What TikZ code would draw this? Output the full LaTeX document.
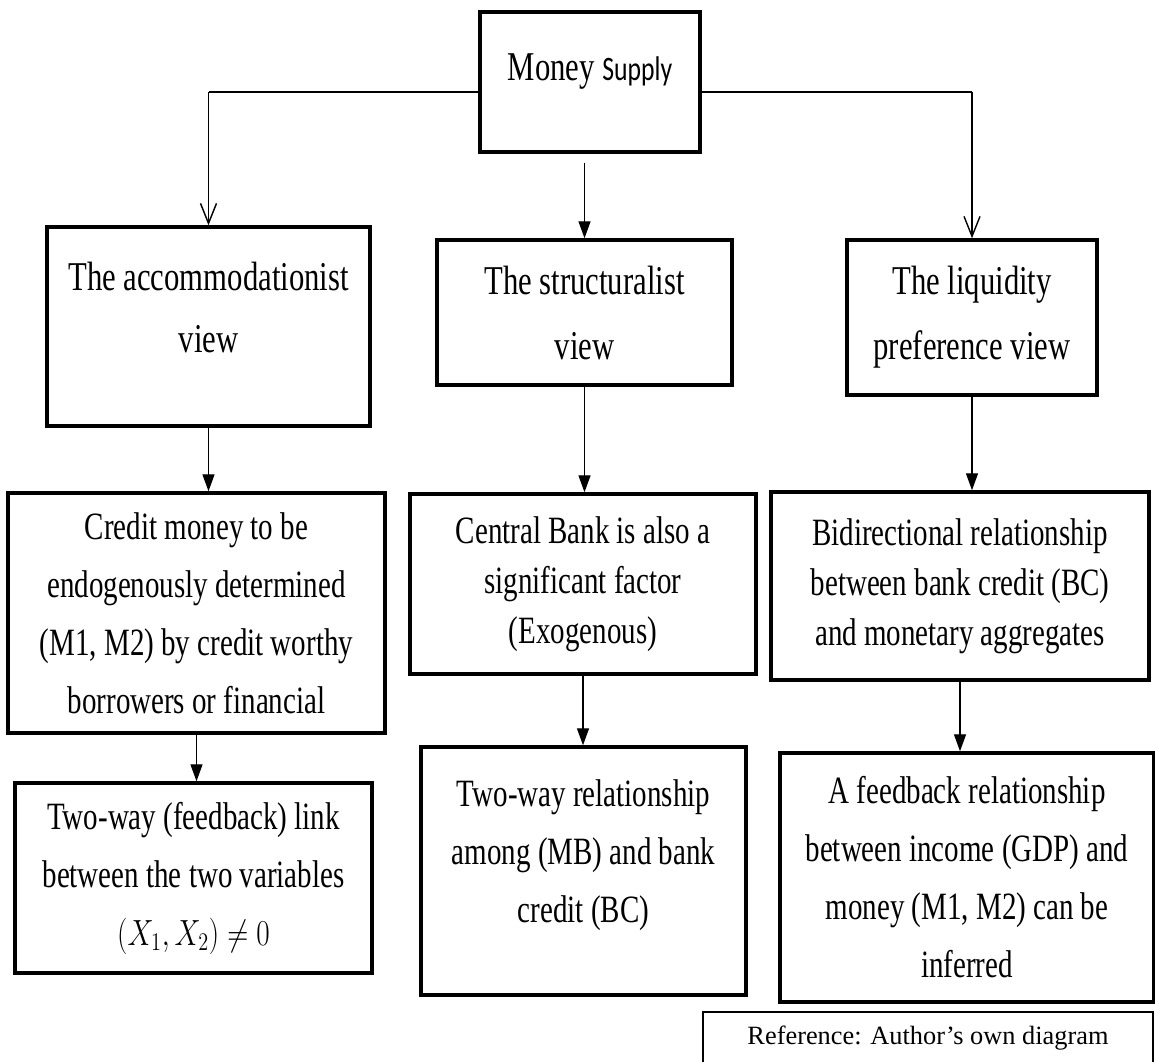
\documentclass[tikz,border=0pt]{standalone}
\usepackage{fontspec}
\usepackage{graphicx}
\usetikzlibrary{arrows.meta,positioning}
\setmainfont[FakeStretch=0.75]{Liberation Serif}
\newfontfamily\supplyfont[FakeStretch=0.75]{Carlito}
\newfontfamily\notefont{Liberation Serif}
\newcommand{\headsize}{\fontsize{23.3}{35}\selectfont}
\newcommand{\bodysize}{\fontsize{22}{33}\selectfont}
\newcommand{\bodytight}{\fontsize{22}{28.5}\selectfont}

\begin{document}
\begin{tikzpicture}[x=0.02cm,y=-0.02cm,
  box/.style={draw,line width=2pt,align=center,inner sep=0pt},
  link/.style={line width=0.8pt},
  vee/.style={link,-{Straight Barb[length=0.4cm,width=0.32cm]}},
  tri/.style={link,-{Triangle[length=0.34cm,width=0.24cm]}}]
  \useasboundingbox (0,0) rectangle (1155,1061);
  % root
  \node[box,minimum width=4.4cm,minimum height=2.8cm,text depth=17pt,font=\headsize]
       (ms) at (590,82) {Money {\supplyfont\fontsize{19.5}{35}\selectfont Supply}};
  % the three views
  \node[box,minimum width=6.46cm,minimum height=3.98cm,text depth=22pt,font=\headsize]
       (acc) at (208.5,326.5) {The accommodationist\\view};
  \node[box,minimum width=5.9cm,minimum height=2.9cm,font=\fontsize{23.3}{37}\selectfont]
       (str) at (584.5,312.5) {The structuralist\\view};
  \node[box,minimum width=5.0cm,minimum height=3.1cm,font=\fontsize{23.3}{37}\selectfont]
       (liq) at (972,317.5) {The liquidity\\preference view};
  % second row
  \node[box,minimum width=7.54cm,minimum height=4.8cm,font=\bodysize]
       (accA) at (196.5,613) {Credit money to be\\endogenously determined\\(M1, M2) by credit worthy\\borrowers or financial};
  \node[box,minimum width=6.92cm,minimum height=3.6cm,font=\bodytight]
       (strA) at (583,584) {Central Bank is also a\\significant factor\\(Exogenous)};
  \node[box,minimum width=7.56cm,minimum height=3.76cm,font=\bodytight]
       (liqA) at (960,586) {Bidirectional relationship\\between bank credit (BC)\\and monetary aggregates};
  % third row
  \node[box,minimum width=7.14cm,minimum height=3.8cm,font=\bodysize]
       (accB) at (193.5,878) {Two-way (feedback) link\\between the two variables\\\scalebox{0.8}[1]{$(X_1,X_2)\neq 0$}};
  \node[box,minimum width=6.5cm,minimum height=4.96cm,text depth=23pt,font=\bodysize]
       (strB) at (583.5,871) {Two-way relationship\\among (MB) and bank\\credit (BC)};
  \node[box,minimum width=7.48cm,minimum height=4.98cm,font=\bodysize]
       (liqB) at (967,877.5) {A feedback relationship\\between income (GDP) and\\money (M1, M2) can be\\inferred};
  % source note
  \node[draw,line width=1.2pt,minimum width=9.0cm,minimum height=1.04cm,inner sep=0pt,
        font=\notefont\fontsize{15}{18}\selectfont] (ref) at (928,1038)
       {Reference: Author’s own diagram};

  % connectors from the root
  \coordinate (kl) at ([yshift=-0.2cm]ms.west -| acc.north);
  \coordinate (kr) at ([yshift=-0.2cm]ms.east -| liq.north);
  \coordinate (msb) at ([yshift=-0.18cm]ms.south);
  \draw[line width=1.4pt] ([yshift=-0.2cm]ms.west) -- (kl);
  \draw[line width=1.4pt] ([yshift=-0.2cm]ms.east) -- (kr);
  \draw[vee] (kl) -- (acc.north);
  \draw[vee] (kr) -- (liq.north);
  \draw[tri] (msb -| str.north) -- (str.north);

  % down the columns
  \draw[tri] (acc.south) -- (acc.south |- accA.north);
  \draw[tri] (str.south) -- (str.south |- strA.north);
  \draw[tri] (liq.south) -- (liq.south |- liqA.north);
  \draw[tri] (accA.south) -- (accA.south |- accB.north);
  \draw[tri] (strA.south) -- (strA.south |- strB.north);
  \draw[tri] (liqA.south) -- (liqA.south |- liqB.north);
\end{tikzpicture}
\end{document}
